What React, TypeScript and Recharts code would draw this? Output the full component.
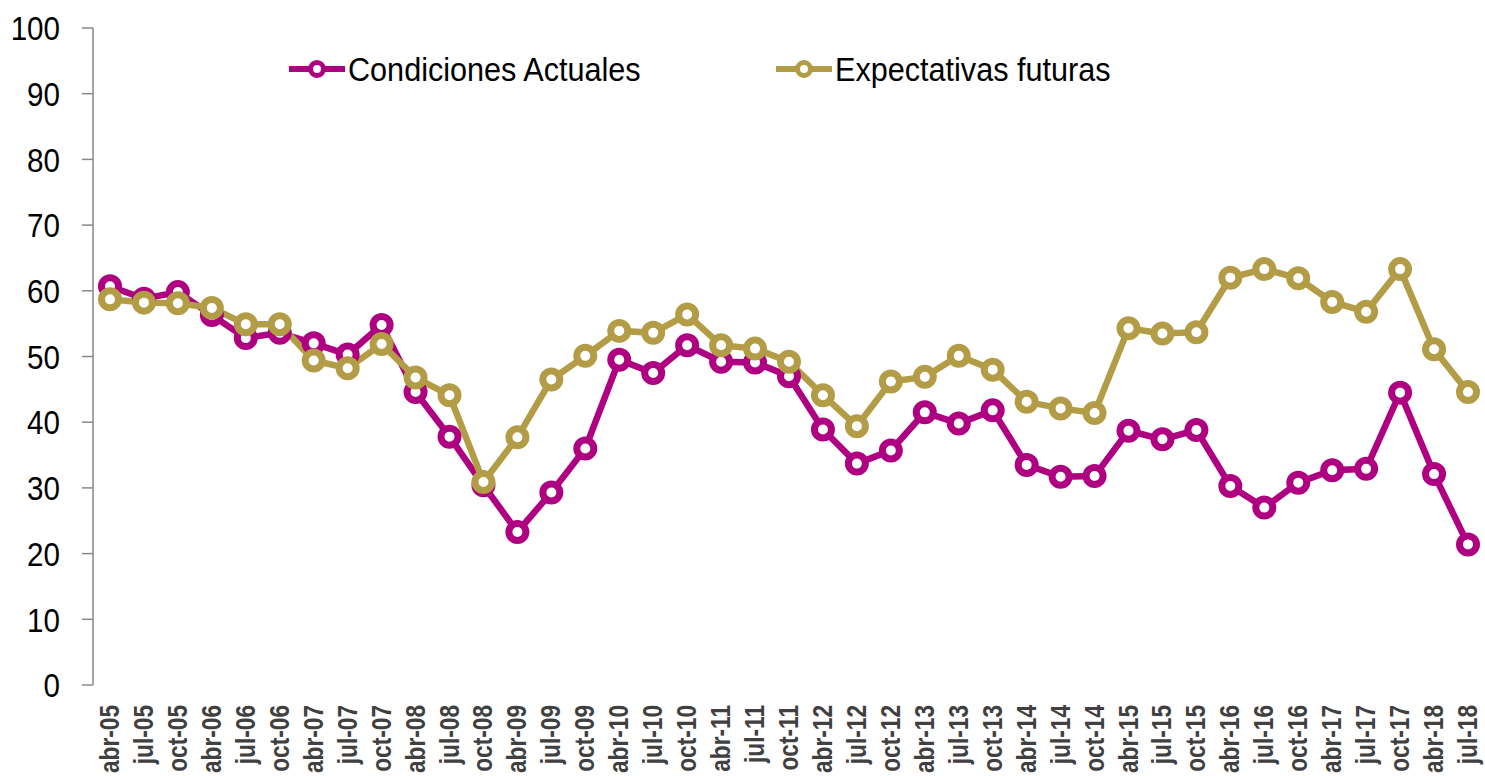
import React from "react";
import { LineChart, Line, XAxis, YAxis, Legend } from "recharts";

const categories = [
  "abr-05", "jul-05", "oct-05", "abr-06", "jul-06", "oct-06", "abr-07", "jul-07", "oct-07",
  "abr-08", "jul-08", "oct-08", "abr-09", "jul-09", "oct-09", "abr-10", "jul-10", "oct-10",
  "abr-11", "jul-11", "oct-11", "abr-12", "jul-12", "oct-12", "abr-13", "jul-13", "oct-13",
  "abr-14", "jul-14", "oct-14", "abr-15", "jul-15", "oct-15", "abr-16", "jul-16", "oct-16",
  "abr-17", "jul-17", "oct-17", "abr-18", "jul-18",
];

const condicionesActuales = [
  60.7, 58.8, 59.8, 56.3, 52.8, 53.6, 52.0, 50.3, 54.8, 44.6, 37.8, 30.4, 23.3, 29.3, 36.0,
  49.5, 47.5, 51.7, 49.2, 49.1, 47.0, 38.9, 33.7, 35.7, 41.5, 39.8, 41.8, 33.5, 31.7, 31.8,
  38.7, 37.4, 38.8, 30.3, 27.0, 30.8, 32.7, 32.9, 44.5, 32.1, 21.4,
];

const expectativasFuturas = [
  58.7, 58.2, 58.1, 57.4, 54.9, 54.9, 49.4, 48.2, 51.9, 46.8, 44.1, 30.9, 37.7, 46.5, 50.1,
  53.9, 53.6, 56.4, 51.7, 51.2, 49.2, 44.1, 39.4, 46.2, 46.9, 50.1, 48.0, 43.1, 42.1, 41.4,
  54.3, 53.5, 53.7, 62.0, 63.3, 61.9, 58.3, 56.8, 63.3, 51.1, 44.6,
];

const yTicks = [0, 10, 20, 30, 40, 50, 60, 70, 80, 90, 100];

const seriesNames = ["Condiciones Actuales", "Expectativas futuras"];

const MAGENTA = "#AE0080";
const GOLD = "#B39C46";
const FONT = "'Liberation Sans Narrow', 'Arial Narrow', 'Liberation Sans', Arial, sans-serif";

const data = categories.map((c, i) => ({
  name: c,
  cond: condicionesActuales[i],
  expec: expectativasFuturas[i],
}));

const XS = 0.84;
const XTick = (props: any) => {
  const { x, y, payload } = props;
  return (
    <g transform={`translate(${x},${y})`}>
      <text
        transform={`rotate(-90) scale(${XS},1)`}
        x={-12 / XS}
        y={9}
        textAnchor="end"
        fill="#404040"
        fontFamily={FONT}
        fontWeight="bold"
        fontSize={27}
      >
        {payload.value}
      </text>
    </g>
  );
};

const YS = 0.87;
const YTick = (props: any) => {
  const { x, y, payload } = props;
  return (
    <text
      transform={`translate(${x},${y}) scale(${YS},1)`}
      x={0}
      y={0}
      dy="0.36em"
      textAnchor="end"
      fill="#000"
      fontFamily={FONT}
      fontSize={34}
    >
      {payload.value}
    </text>
  );
};

const legendItems = [
  { name: seriesNames[0], color: MAGENTA, left: 288 },
  { name: seriesNames[1], color: GOLD, left: 775 },
];

const renderLegend = () => (
  <div style={{ position: "relative", width: 1485, height: 60 }}>
    {legendItems.map((it) => (
      <div
        key={it.name}
        style={{
          position: "absolute",
          left: it.left,
          top: 0,
          display: "flex",
          alignItems: "center",
          height: 60,
        }}
      >
        <svg width={58} height={30} style={{ display: "block" }}>
          <line x1={1} y1={15} x2={57} y2={15} stroke={it.color} strokeWidth={6} />
          <circle cx={29} cy={15} r={6.5} fill="#fff" stroke={it.color} strokeWidth={5} />
        </svg>
        <span
          style={{
            display: "inline-block",
            fontFamily: FONT,
            fontSize: 34,
            color: "#000",
            marginLeft: 2,
            whiteSpace: "nowrap",
            lineHeight: "60px",
            transform: "scaleX(0.9)",
            transformOrigin: "left center",
          }}
        >
          {it.name}
        </span>
      </div>
    ))}
  </div>
);

export default function App() {
  return (
    <div style={{ position: "absolute", left: 0, top: 0, width: 1485, height: 776, background: "#fff" }}>
      <LineChart
        width={1485}
        height={776}
        data={data}
        margin={{ top: 28, right: 17, bottom: 0, left: 0 }}
      >
        <XAxis
          dataKey="name"
          interval={0}
          axisLine={false}
          tickLine={false}
          height={91}
          padding={{ left: 17, right: 0 }}
          tick={<XTick />}
        />
        <YAxis
          domain={[0, 100]}
          ticks={yTicks}
          width={93}
          axisLine={{ stroke: "#888", strokeWidth: 1.5 }}
          tickLine={{ stroke: "#888", strokeWidth: 1.5 }}
          tickSize={11}
          tickMargin={22}
          tick={<YTick />}
        />
        <Legend
          layout="horizontal"
          verticalAlign="middle"
          content={renderLegend}
          wrapperStyle={{ position: "absolute", top: 39, left: 0, width: 1485, height: 60 }}
        />
        <Line
          dataKey="cond"
          name={seriesNames[0]}
          stroke={MAGENTA}
          strokeWidth={6.5}
          dot={{ r: 8.5, fill: "#fff", stroke: MAGENTA, strokeWidth: 7 }}
          activeDot={false}
          isAnimationActive={false}
        />
        <Line
          dataKey="expec"
          name={seriesNames[1]}
          stroke={GOLD}
          strokeWidth={6.5}
          dot={{ r: 8.5, fill: "#fff", stroke: GOLD, strokeWidth: 7 }}
          activeDot={false}
          isAnimationActive={false}
        />
      </LineChart>
    </div>
  );
}
